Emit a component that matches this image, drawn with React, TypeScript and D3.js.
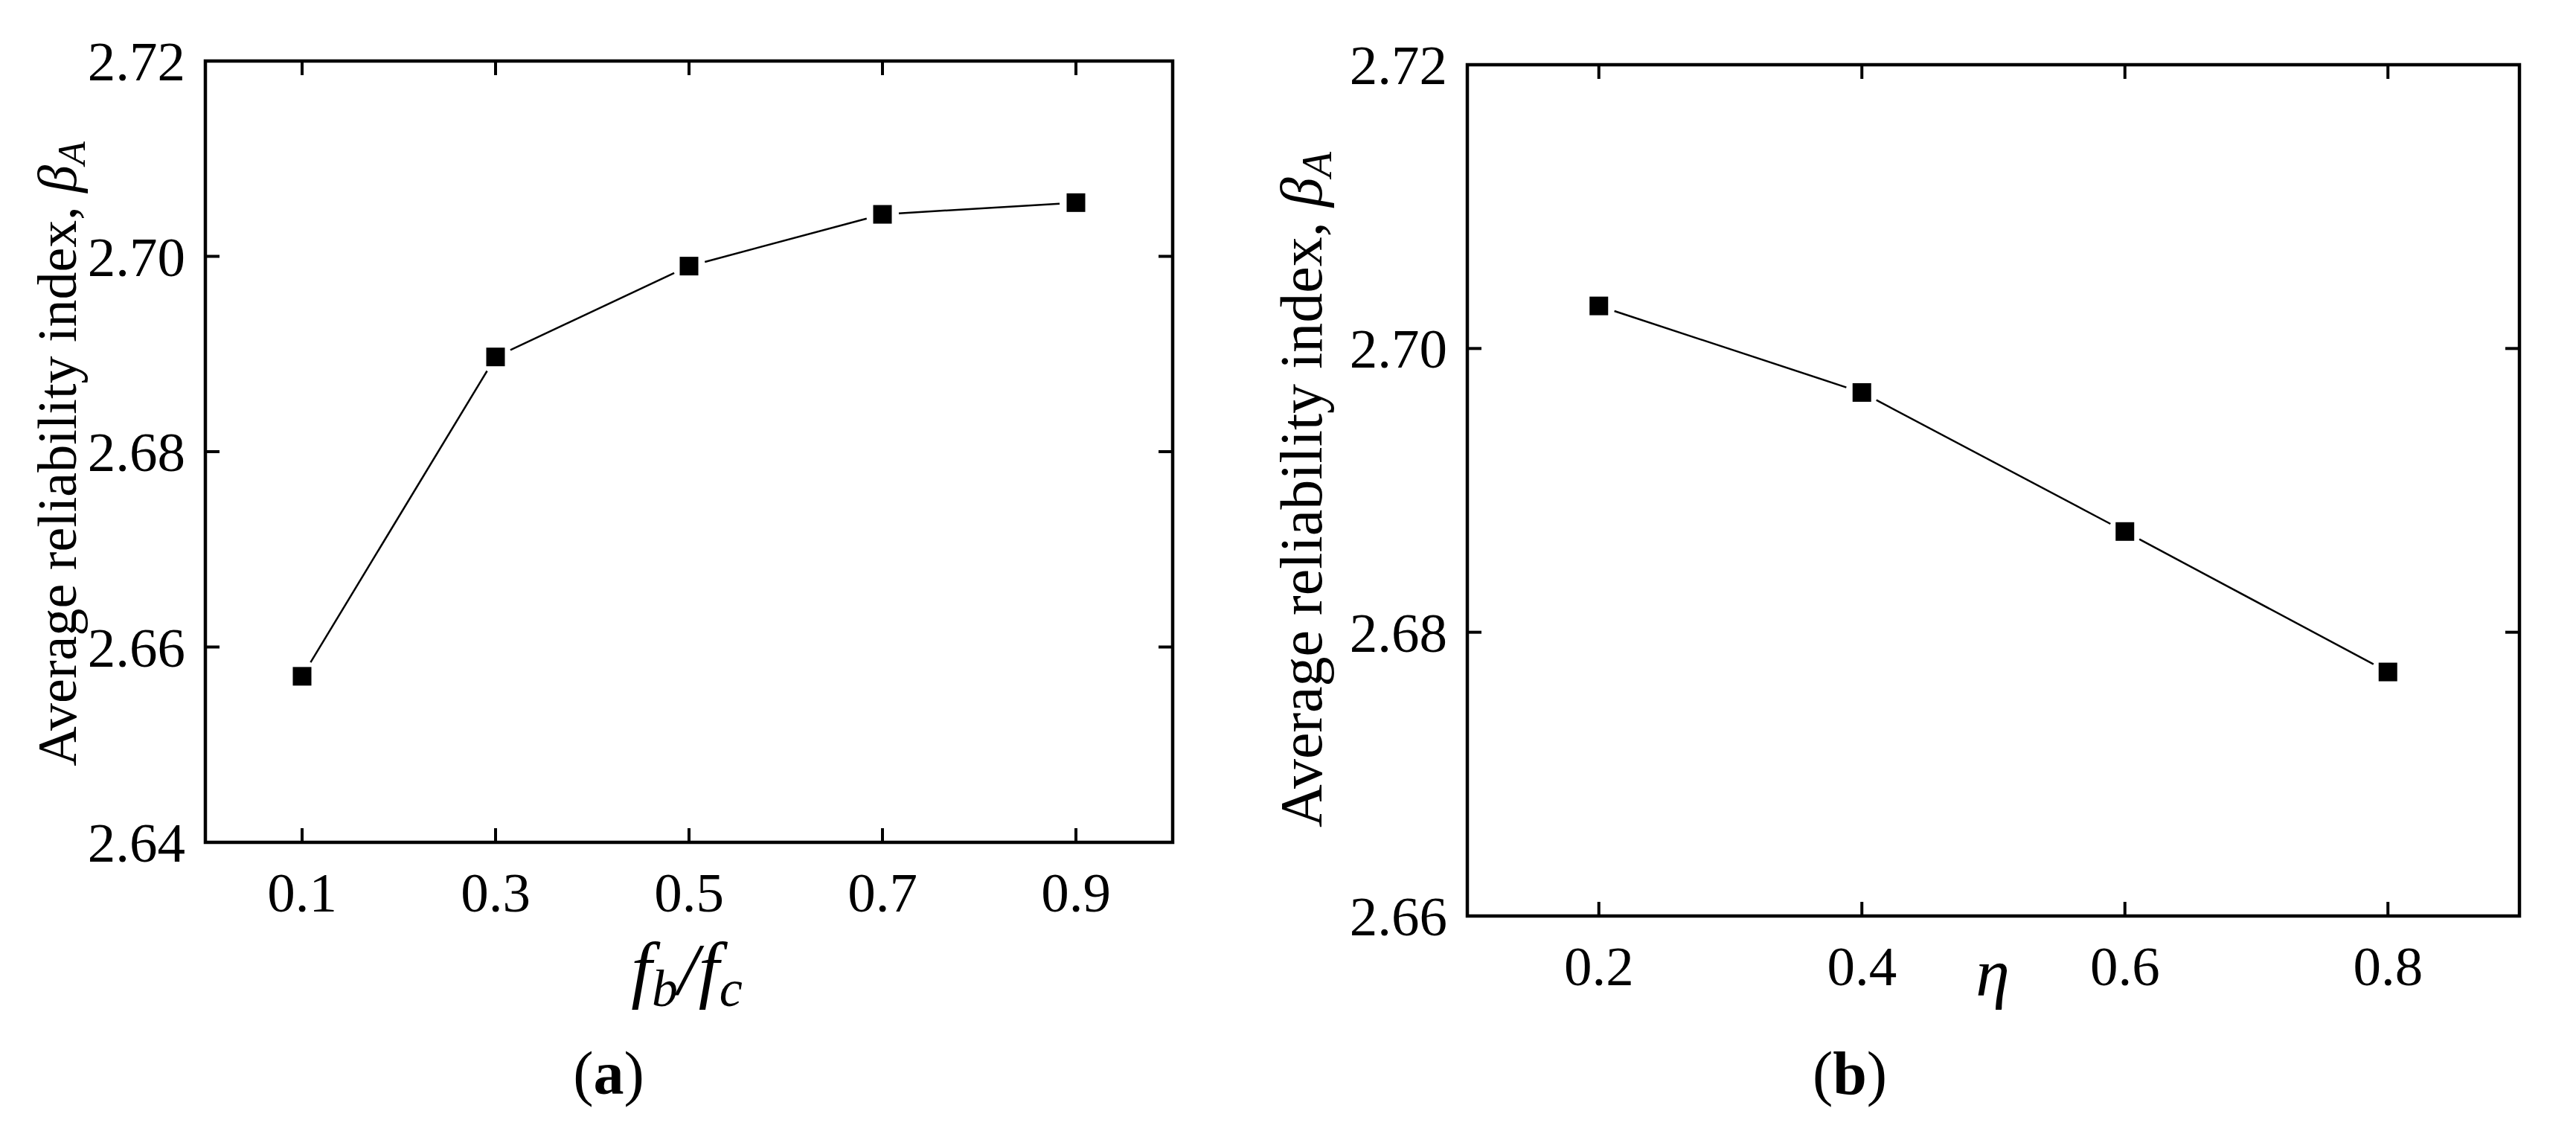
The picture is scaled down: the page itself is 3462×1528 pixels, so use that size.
import React from "react";
import * as d3 from "d3";

const ratioA = [0.1, 0.3, 0.5, 0.7, 0.9];
const betaA = [2.657, 2.6897, 2.699, 2.7043, 2.7055];
const etaB = [0.2, 0.4, 0.6, 0.8];
const betaB = [2.703, 2.6969, 2.6871, 2.6772];
const yTicksA = [2.64, 2.66, 2.68, 2.70, 2.72];
const yTicksB = [2.66, 2.68, 2.70, 2.72];

const FONT = "'Liberation Serif', 'Times New Roman', serif";

type PanelProps = {
  xs: number[];
  ys: number[];
  xDomain: [number, number];
  yDomain: [number, number];
  xTicks: number[];
  yTicks: number[];
  box: { l: number; r: number; t: number; b: number };
  yLabel: { x: number; y: number; size: number };
  xTitle: React.ReactNode;
  caption: { x: number; y: number; letter: string };
};

function Panel(p: PanelProps) {
  const x = d3.scaleLinear().domain(p.xDomain).range([p.box.l, p.box.r]);
  const y = d3.scaleLinear().domain(p.yDomain).range([p.box.b, p.box.t]);
  const pts = p.xs.map((v, i) => [x(v), y(p.ys[i])] as [number, number]);
  const gap = 22;
  const segs: string[] = [];
  for (let i = 0; i < pts.length - 1; i++) {
    const [x1, y1] = pts[i];
    const [x2, y2] = pts[i + 1];
    const len = Math.hypot(x2 - x1, y2 - y1);
    const ux = (x2 - x1) / len, uy = (y2 - y1) / len;
    const line = d3.line();
    segs.push(line([[x1 + ux * gap, y1 + uy * gap], [x2 - ux * gap, y2 - uy * gap]]) as string);
  }
  const tl = 19;
  const fmtX = d3.format(".1f");
  const fmtY = d3.format(".2f");
  const ms = 25;
  const ls = p.yLabel.size;
  return (
    <g>
      <rect x={p.box.l} y={p.box.t} width={p.box.r - p.box.l} height={p.box.b - p.box.t}
        fill="none" stroke="#000" strokeWidth={4.5} />
      {p.xTicks.map((t) => (
        <g key={"x" + t}>
          <line x1={x(t)} x2={x(t)} y1={p.box.b} y2={p.box.b - tl} stroke="#000" strokeWidth={4} />
          <line x1={x(t)} x2={x(t)} y1={p.box.t} y2={p.box.t + tl} stroke="#000" strokeWidth={4} />
          <text x={x(t)} y={p.box.b + 93} textAnchor="middle" fontFamily={FONT} fontSize={75}>{fmtX(t)}</text>
        </g>
      ))}
      {p.yTicks.map((t) => (
        <g key={"y" + t}>
          <line x1={p.box.l} x2={p.box.l + tl} y1={y(t)} y2={y(t)} stroke="#000" strokeWidth={4} />
          <line x1={p.box.r} x2={p.box.r - tl} y1={y(t)} y2={y(t)} stroke="#000" strokeWidth={4} />
          <text x={p.box.l - 27} y={y(t) + 26} textAnchor="end" fontFamily={FONT} fontSize={75}>{fmtY(t)}</text>
        </g>
      ))}
      {segs.map((d, i) => (
        <path key={"s" + i} d={d} fill="none" stroke="#000" strokeWidth={2.5} />
      ))}
      {pts.map(([cx, cy], i) => (
        <rect key={"m" + i} x={cx - ms / 2} y={cy - ms / 2} width={ms} height={ms} fill="#000" />
      ))}
      <text transform={`translate(${p.yLabel.x},${p.yLabel.y}) rotate(-90)`} textAnchor="middle"
        fontFamily={FONT} fontSize={ls}>
        Average reliability index, <tspan fontStyle="italic">β</tspan>
        <tspan fontStyle="italic" fontSize={ls * 0.7} dy={ls * 0.16}>A</tspan>
      </text>
      {p.xTitle}
      <text x={p.caption.x} y={p.caption.y} textAnchor="middle" fontFamily={FONT} fontSize={82}>
        (<tspan fontWeight="bold">{p.caption.letter}</tspan>)
      </text>
    </g>
  );
}

export default function App() {
  return (
    <svg width={3462} height={1528} style={{ position: "absolute", left: 0, top: 0, background: "#fff" }}>
      <rect width={3462} height={1528} fill="#fff" />
      <Panel
        xs={ratioA}
        ys={betaA}
        xDomain={[0, 1.0]}
        yDomain={[2.64, 2.72]}
        xTicks={ratioA}
        yTicks={yTicksA}
        box={{ l: 276, r: 1576, t: 82, b: 1132 }}
        yLabel={{ x: 102, y: 610, size: 74 }}
        xTitle={
          <text x={923} y={1336} textAnchor="middle" fontFamily={FONT} fontSize={100} fontStyle="italic">
            f<tspan fontSize={70} dy={16}>b</tspan><tspan fontSize={100} dy={-16}>/f</tspan>
            <tspan fontSize={70} dy={16}>c</tspan>
          </text>
        }
        caption={{ x: 818, y: 1470, letter: "a" }}
      />
      <Panel
        xs={etaB}
        ys={betaB}
        xDomain={[0.1, 0.9]}
        yDomain={[2.66, 2.72]}
        xTicks={etaB}
        yTicks={yTicksB}
        box={{ l: 1972, r: 3386, t: 87, b: 1231 }}
        yLabel={{ x: 1776, y: 658, size: 80 }}
        xTitle={
          <text x={2678} y={1338} textAnchor="middle" fontFamily={FONT} fontSize={92} fontStyle="italic">η</text>
        }
        caption={{ x: 2486, y: 1470, letter: "b" }}
      />
    </svg>
  );
}
